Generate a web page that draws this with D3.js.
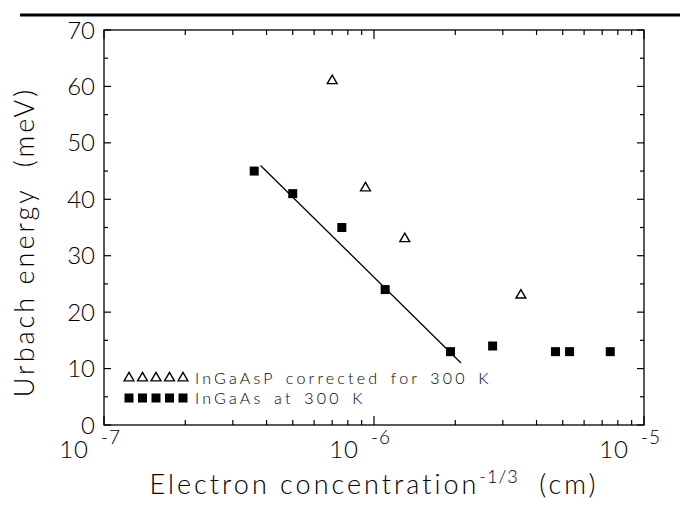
<!DOCTYPE html>
<html><head><meta charset="utf-8">
<script src="https://cdn.jsdelivr.net/npm/d3@7"></script>
<style>
body{margin:0;background:#fff}
text{font-family:Lato,"DejaVu Sans",sans-serif;font-weight:300;fill:#000}
</style>
</head><body>
<svg id="c" width="680" height="505"></svg>
<script>
// ---- data ----
const ingaasX = [3.6e-7, 5.0e-7, 7.6e-7, 1.10e-6, 1.92e-6, 2.75e-6, 4.7e-6, 5.3e-6, 7.5e-6];
const ingaasY = [45, 41, 35, 24, 13, 14, 13, 13, 13];
const ingaaspX = [7.0e-7, 9.3e-7, 1.30e-6, 3.5e-6];
const ingaaspY = [61, 42, 33, 23];
const fitX = [3.8e-7, 2.1e-6];
const fitY = [46, 11];
const yTickValues = [0, 10, 20, 30, 40, 50, 60, 70];
const xDecades = [1e-7, 1e-6, 1e-5];
const xExponents = ["-7", "-6", "-5"];
const legendLabels = ["InGaAsP corrected for 300 K", "InGaAs at 300 K"];
const yTitle = "Urbach energy  (meV)";
const xTitle = "Electron concentration";
const xTitleSup = "-1/3";
const xTitleUnit = "  (cm)";

// ---- layout ----
const L = 104, R = 644, T = 30, B = 425;
const svg = d3.select("#c");
const x = d3.scaleLog().domain([1e-7, 1e-5]).range([L, R]);
const y = d3.scaleLinear().domain([0, 70]).range([B, T]);

// top rule
svg.append("line").attr("x1", 20).attr("x2", 680).attr("y1", 15).attr("y2", 15)
  .attr("stroke", "#000").attr("stroke-width", 3);

// frame
svg.append("rect").attr("x", L).attr("y", T).attr("width", R - L).attr("height", B - T)
  .attr("fill", "none").attr("stroke", "#000").attr("stroke-width", 1.3);

// y ticks (inward both sides)
const yMinor = d3.range(5, 70, 10);
const ax = svg.append("g").attr("stroke", "#000").attr("stroke-width", 1.2);
yTickValues.forEach(v => {
  ax.append("line").attr("x1", L).attr("x2", L + 7).attr("y1", y(v)).attr("y2", y(v));
  ax.append("line").attr("x1", R).attr("x2", R - 7).attr("y1", y(v)).attr("y2", y(v));
});
yMinor.forEach(v => {
  ax.append("line").attr("x1", L).attr("x2", L + 4).attr("y1", y(v)).attr("y2", y(v));
  ax.append("line").attr("x1", R).attr("x2", R - 4).attr("y1", y(v)).attr("y2", y(v));
});
// x ticks
x.ticks().forEach(v => {
  const major = xDecades.some(d => Math.abs(d - v) / d < 1e-6);
  const len = major ? 9 : 5;
  ax.append("line").attr("x1", x(v)).attr("x2", x(v)).attr("y1", B).attr("y2", B - len);
  ax.append("line").attr("x1", x(v)).attr("x2", x(v)).attr("y1", T).attr("y2", T + len);
});

// y tick labels
svg.append("g").selectAll("text").data(yTickValues).join("text")
  .attr("x", L - 9).attr("y", d => y(d) + 8.5)
  .attr("text-anchor", "end").attr("font-size", 24).text(d => d);

// x tick labels
xDecades.forEach((d, i) => {
  const g = svg.append("g");
  g.append("text").attr("x", x(d) - 15).attr("y", 458).attr("text-anchor", "end")
    .attr("font-size", 24).attr("letter-spacing", 1).text("10");
  g.append("text").attr("x", x(d) - 3).attr("y", 444).attr("text-anchor", "start")
    .attr("font-size", 19).attr("letter-spacing", 1).text(xExponents[i]);
});

// axis titles
svg.append("text").attr("transform", `translate(34,242) rotate(-90)`)
  .attr("text-anchor", "middle").attr("font-size", 27).attr("letter-spacing", 3)
  .style("white-space", "pre").text(yTitle);
const xt = svg.append("text").attr("x", 374).attr("y", 494)
  .attr("text-anchor", "middle").attr("font-size", 27).attr("letter-spacing", 3)
  .style("white-space", "pre");
xt.append("tspan").text(xTitle);
xt.append("tspan").attr("dy", -11).attr("font-size", 18).attr("letter-spacing", 1).text(xTitleSup);
xt.append("tspan").attr("dy", 11).text(xTitleUnit);

// fit line
svg.append("line").attr("x1", x(fitX[0])).attr("y1", y(fitY[0]))
  .attr("x2", x(fitX[1])).attr("y2", y(fitY[1])).attr("stroke", "#000").attr("stroke-width", 1.3);

// symbols
const tri = d3.symbol().type(d3.symbolTriangle).size(42);
const sq = 9;
svg.append("g").selectAll("path").data(ingaaspX.map((v, i) => [v, ingaaspY[i]])).join("path")
  .attr("d", tri).attr("transform", d => `translate(${x(d[0])},${y(d[1])})`)
  .attr("fill", "#fff").attr("stroke", "#000").attr("stroke-width", 1.4);
svg.append("g").selectAll("rect").data(ingaasX.map((v, i) => [v, ingaasY[i]])).join("rect")
  .attr("x", d => x(d[0]) - sq / 2).attr("y", d => y(d[1]) - sq / 2)
  .attr("width", sq).attr("height", sq).attr("fill", "#000");

// legend
const legY = [378, 398];
const legX0 = 129, legStep = 13.5;
for (let k = 0; k < 5; k++) {
  svg.append("path").attr("d", tri)
    .attr("transform", `translate(${legX0 + k * legStep},${legY[0]})`)
    .attr("fill", "#fff").attr("stroke", "#000").attr("stroke-width", 1.4);
  svg.append("rect").attr("x", legX0 + k * legStep - sq / 2).attr("y", legY[1] - sq / 2)
    .attr("width", sq).attr("height", sq).attr("fill", "#000");
}
legendLabels.forEach((t, i) => {
  svg.append("text").attr("x", 195).attr("y", legY[i] + 6).attr("font-size", 16)
    .attr("letter-spacing", 3.2).attr("word-spacing", 3).text(t);
});
</script>
</body></html>
